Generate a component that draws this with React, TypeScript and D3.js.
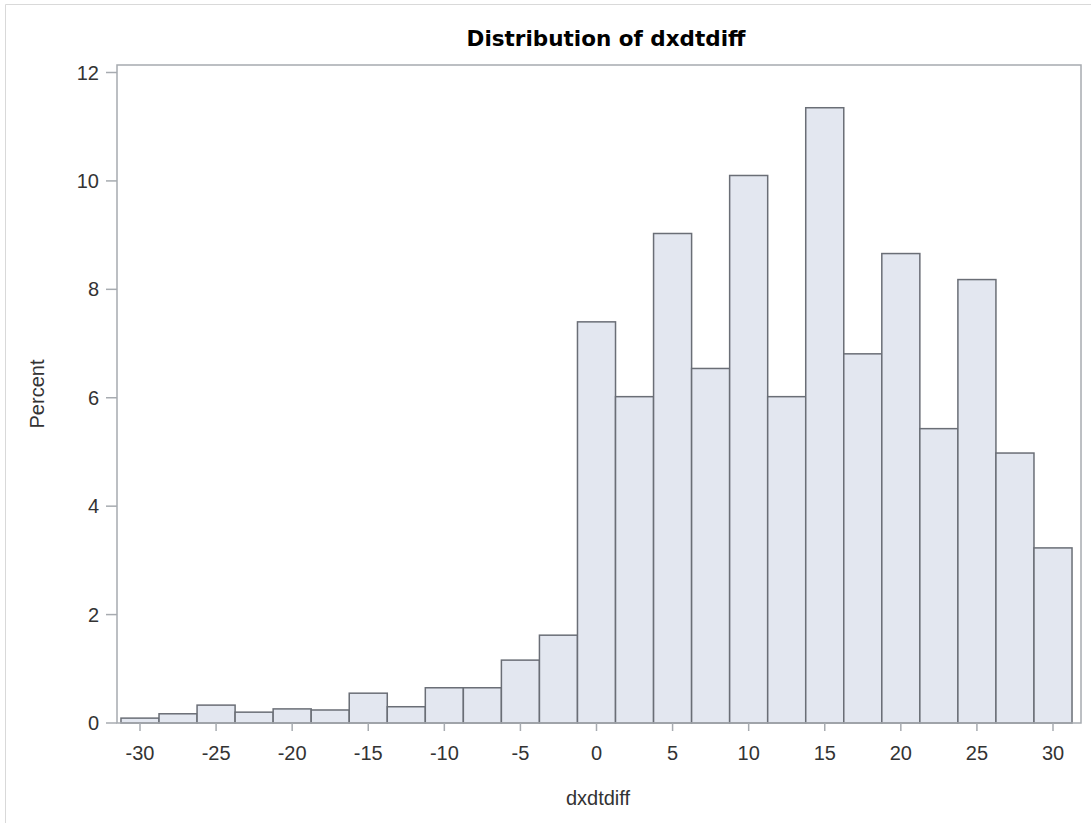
import React from 'react';
import * as d3 from 'd3';

// histogram bins (midpoints) and percent per bin
const binMids = [-30, -27.5, -25, -22.5, -20, -17.5, -15, -12.5, -10, -7.5, -5, -2.5,
    0, 2.5, 5, 7.5, 10, 12.5, 15, 17.5, 20, 22.5, 25, 27.5, 30];
const percents = [0.09, 0.17, 0.33, 0.2, 0.26, 0.24, 0.55, 0.3, 0.65, 0.65, 1.16, 1.62,
    7.40, 6.02, 9.03, 6.54, 10.10, 6.02, 11.35, 6.81, 8.66, 5.43, 8.18, 4.98, 3.23];
const xTicks = [-30, -25, -20, -15, -10, -5, 0, 5, 10, 15, 20, 25, 30];
const yTicks = [0, 2, 4, 6, 8, 10, 12];
const binWidth = 2.5;

const W = 1091, H = 823;
const left = 117, right = 1081, top = 65, bottom = 723;
const tickFont = '"Liberation Sans", Arial, sans-serif';

export default function App() {
    const x = d3.scaleLinear().domain([-30, 30]).range([140, 1053]);
    const y = d3.scaleLinear().domain([0, 12]).range([bottom, 72.5]);

    return (
        <svg width={W} height={H} style={{ position: 'absolute', left: 0, top: 0, background: '#fff' }}>
            {/* outer border */}
            <line x1={5.5} y1={4.5} x2={W} y2={4.5} stroke="#d9d9d9" />
            <line x1={5.5} y1={4.5} x2={5.5} y2={H} stroke="#d9d9d9" />

            <text x={606} y={46} textAnchor="middle" fontFamily='"DejaVu Sans", Verdana, sans-serif'
                fontWeight="bold" fontSize={21.5} fill="#000">Distribution of dxdtdiff</text>

            {binMids.map((m, i) => (
                <rect key={i}
                    x={x(m - binWidth / 2)}
                    y={y(percents[i])}
                    width={x(m + binWidth / 2) - x(m - binWidth / 2)}
                    height={y(0) - y(percents[i])}
                    fill="#e3e7f0" stroke="#6a6e76" strokeWidth={1.5} />
            ))}

            {/* frame */}
            <rect x={left} y={top} width={right - left} height={bottom - top}
                fill="none" stroke="#a7abb0" strokeWidth={1.5} />

            {yTicks.map(t => (
                <g key={t}>
                    <line x1={106} x2={left} y1={y(t)} y2={y(t)} stroke="#a7abb0" strokeWidth={1.5} />
                    <text x={99} y={y(t)} dy="0.35em" textAnchor="end" fontFamily={tickFont}
                        fontSize={20} fill="#333">{t}</text>
                </g>
            ))}
            {xTicks.map(t => (
                <g key={t}>
                    <line x1={x(t)} x2={x(t)} y1={bottom} y2={bottom + 8} stroke="#a7abb0" strokeWidth={1.5} />
                    <text x={x(t)} y={760} textAnchor="middle" fontFamily={tickFont}
                        fontSize={20} fill="#333">{t}</text>
                </g>
            ))}

            <text x={598} y={805} textAnchor="middle" fontFamily={tickFont} fontSize={20} fill="#333">dxdtdiff</text>
            <text transform={`translate(44,${(top + bottom) / 2}) rotate(-90)`} textAnchor="middle"
                fontFamily={tickFont} fontSize={20} fill="#333">Percent</text>
        </svg>
    );
}
